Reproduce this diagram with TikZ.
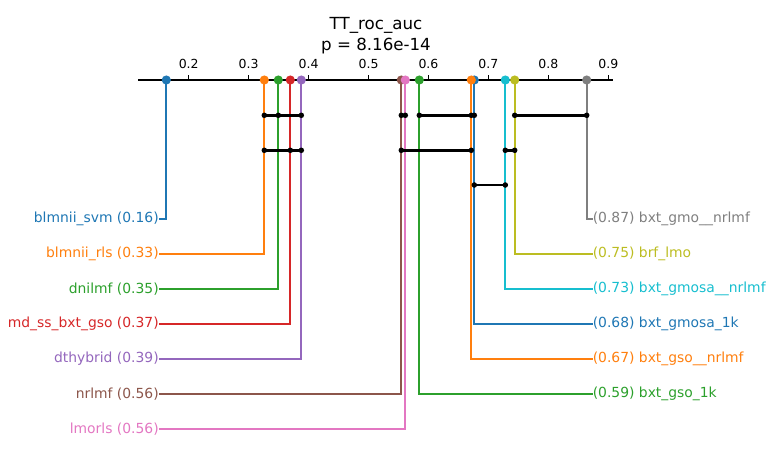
\documentclass[tikz,border=0pt]{standalone}
\usepackage{fontspec}
\setmainfont{DejaVu Sans}
\usepackage{tikz}
\definecolor{cblue}{HTML}{1F77B4}
\definecolor{corange}{HTML}{FF7F0E}
\definecolor{cgreen}{HTML}{2CA02C}
\definecolor{cred}{HTML}{D62728}
\definecolor{cpurple}{HTML}{9467BD}
\definecolor{cbrown}{HTML}{8C564B}
\definecolor{cpink}{HTML}{E377C2}
\definecolor{cgray}{HTML}{7F7F7F}
\definecolor{colive}{HTML}{BCBD22}
\definecolor{ccyan}{HTML}{17BECF}
\tikzset{
	rank/.style={line width=1.44pt},
	clique/.style={line width=1.8pt, black},
	lbl/.style={font=\fontsize{10}{12}\selectfont, inner sep=0pt},
	llbl/.style={lbl, anchor=east},
	rlbl/.style={lbl, anchor=west},
	tick/.style={font=\fontsize{9}{11}\selectfont, inner sep=0pt}
}
\newcommand{\mdot}[2]{\fill[#1] (#2) circle (3.3pt);}
\newcommand{\cqdot}[1]{\fill[black] (#1) circle (2pt);}
\begin{document}
\begin{tikzpicture}[x=0.72pt, y=-0.72pt]
	\useasboundingbox (0, 0) rectangle (774, 462);
	% Title and axis:

	\node[font=\fontsize{12}{14}\selectfont, inner sep=0pt](T1) at (376, 25){TT\_roc\_auc};
	\node[font=\fontsize{12}{14}\selectfont, inner sep=0pt](T2) at (376, 46){p = 8.16e-14};
	\coordinate (A0) at (138, 80);
	\coordinate (A1) at (613, 80);
	\draw[line width=0.8pt] (A0) -- (A1);
	\foreach \v [count=\i] in {0.2,0.3,0.4,0.5,0.6,0.7,0.8,0.9}{
		\draw[line width=0.8pt] (188.7+\i*59.94-59.94, 80) -- (188.7+\i*59.94-59.94, 75);
		\node[tick](K\i) at (188.7+\i*59.94-59.94, 64){\v};
	}

	% Ranks on the axis:
	\coordinate (P1) at (166.3, 80);
	\coordinate (P2) at (264.3, 80);
	\coordinate (P3) at (278.3, 80);
	\coordinate (P4) at (290.3, 80);
	\coordinate (P5) at (301.3, 80);
	\coordinate (P6) at (401.3, 80);
	\coordinate (P7) at (405.3, 80);
	\coordinate (Q1) at (586.7, 80);
	\coordinate (Q2) at (514.7, 80);
	\coordinate (Q3) at (505.3, 80);
	\coordinate (Q4) at (474.3, 80);
	\coordinate (Q5) at (471.3, 80);
	\coordinate (Q6) at (419.3, 80);

	% Left labels:
	\node[llbl, text=cblue](L1) at (159, 219){blmnii\_svm (0.16)};
	\node[llbl, text=corange](L2) at (159, 254){blmnii\_rls (0.33)};
	\node[llbl, text=cgreen](L3) at (159, 289){dnilmf (0.35)};
	\node[llbl, text=cred](L4) at (159, 324){md\_ss\_bxt\_gso (0.37)};
	\node[llbl, text=cpurple](L5) at (159, 359){dthybrid (0.39)};
	\node[llbl, text=cbrown](L6) at (159, 394){nrlmf (0.56)};
	\node[llbl, text=cpink](L7) at (159, 429){lmorls (0.56)};

	% Right labels:
	\node[rlbl, text=cgray](R1) at (592.5, 219){(0.87) bxt\_gmo\_\_nrlmf};
	\node[rlbl, text=colive](R2) at (592.5, 254){(0.75) brf\_lmo};
	\node[rlbl, text=ccyan](R3) at (592.5, 289){(0.73) bxt\_gmosa\_\_nrlmf};
	\node[rlbl, text=cblue](R4) at (592.5, 324){(0.68) bxt\_gmosa\_1k};
	\node[rlbl, text=corange](R5) at (592.5, 359){(0.67) bxt\_gso\_\_nrlmf};
	\node[rlbl, text=cgreen](R6) at (592.5, 394){(0.59) bxt\_gso\_1k};

	% Connectors:
	\draw[rank, cblue] (P1) |- (L1.east);
	\draw[rank, corange] (P2) |- (L2.east);
	\draw[rank, cgreen] (P3) |- (L3.east);
	\draw[rank, cred] (P4) |- (L4.east);
	\draw[rank, cpurple] (P5) |- (L5.east);
	\draw[rank, cbrown] (P6) |- (L6.east);
	\draw[rank, cpink] (P7) |- (L7.east);
	\draw[rank, cgray] (Q1) |- (R1.west);
	\draw[rank, colive] (Q2) |- (R2.west);
	\draw[rank, ccyan] (Q3) |- (R3.west);
	\draw[rank, cblue] (Q4) |- (R4.west);
	\draw[rank, corange] (Q5) |- (R5.west);
	\draw[rank, cgreen] (Q6) |- (R6.west);
	\mdot{cblue}{P1}
	\mdot{corange}{P2}
	\mdot{cgreen}{P3}
	\mdot{cred}{P4}
	\mdot{cpurple}{P5}
	\mdot{cbrown}{P6}
	\mdot{cpink}{P7}
	\mdot{cgray}{Q1}
	\mdot{colive}{Q2}
	\mdot{ccyan}{Q3}
	\mdot{cblue}{Q4}
	\mdot{corange}{Q5}
	\mdot{cgreen}{Q6}

	% Cliques:
	\draw[clique] (264.3, 115.3) -- (301.3, 115.3);
	\foreach \x in {264.3, 278.3, 301.3} {\cqdot{\x, 115.3}}
	\draw[clique] (401.3, 115.3) -- (405.3, 115.3);
	\foreach \x in {401.3, 405.3} {\cqdot{\x, 115.3}}
	\draw[clique] (419.3, 115.3) -- (474.3, 115.3);
	\foreach \x in {419.3, 471.3, 474.3} {\cqdot{\x, 115.3}}
	\draw[clique] (514.7, 115.3) -- (586.7, 115.3);
	\foreach \x in {514.7, 586.7} {\cqdot{\x, 115.3}}
	\draw[clique] (264.3, 150.3) -- (301.3, 150.3);
	\foreach \x in {264.3, 290.3, 301.3} {\cqdot{\x, 150.3}}
	\draw[clique] (401.3, 150.3) -- (471.3, 150.3);
	\foreach \x in {401.3, 471.3} {\cqdot{\x, 150.3}}
	\draw[clique] (505.3, 150.3) -- (514.7, 150.3);
	\foreach \x in {505.3, 514.7} {\cqdot{\x, 150.3}}
	\draw[clique] (474.3, 185) -- (505.3, 185);
	\foreach \x in {474.3, 505.3} {\cqdot{\x, 185}}
\end{tikzpicture}
\end{document}
